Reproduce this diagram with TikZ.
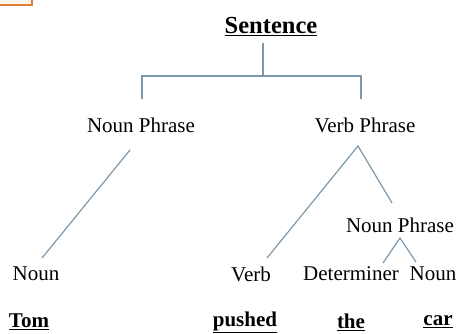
\documentclass[tikz,border=0pt]{standalone}
\usepackage{fontspec}
\setmainfont{Liberation Serif}
\begin{document}
\begin{tikzpicture}[x=1pt,y=-1pt,
  edge/.style={draw={rgb,255:red,125;green,152;blue,170},line width=1.2pt},
  lbl/.style={inner sep=0pt,font=\fontsize{21}{23}\selectfont},
  word/.style={inner sep=0pt,font=\fontsize{21}{23}\selectfont\bfseries},
  top/.style={inner sep=0pt,font=\fontsize{24.5}{27}\selectfont\bfseries}]
\useasboundingbox (0,0) rectangle (459,334);
% orange box fragment at top-left corner
\fill[orange!8] (0,0) rectangle (32,5);
\draw[draw={rgb,255:red,222;green,128;blue,60},line width=1.3pt] (0,5) -- (32,5) -- (32,0);
% nodes
\node[top] (s) at (271,27) {\underline{Sentence}};
\node[lbl] (np1) at (141,125) {Noun Phrase};
\node[lbl] (vp) at (365,125) {Verb Phrase};
\node[lbl] (np2) at (400,225) {Noun Phrase};
\node[lbl] (n1) at (36,274) {Noun};
\node[lbl] (v) at (251,274) {Verb};
\node[lbl] (det) at (351,274) {Determiner};
\node[lbl] (n2) at (433,274) {Noun};
\node[word] (tom) at (29,322) {\underline{Tom}};
\node[word] (pushed) at (245,322) {\underline{pushed}};
\node[word] (the) at (351,322) {\underline{the}};
\node[word] (car) at (438,322) {\underline{car}};
% connector points
\coordinate (sb) at (263,43);
\coordinate (bar) at (263,76);
\coordinate (bl) at (142,76);
\coordinate (br) at (361,76);
\coordinate (bld) at (142,99);
\coordinate (brd) at (361,99);
\coordinate (np1b) at (130,150);
\coordinate (n1t) at (42,258);
\coordinate (vpb) at (358,146);
\coordinate (vt) at (267,258);
\coordinate (np2t) at (392,203);
\coordinate (np2b) at (400,238);
\coordinate (dett) at (383,263);
\coordinate (n2t) at (416,262);
% connectors
\draw[edge] (sb) -- (bar);
\draw[edge] (bld) -- (bl) -- (br) -- (brd);
\draw[edge] (np1b) -- (n1t);
\draw[edge] (vt) -- (vpb) -- (np2t);
\draw[edge] (dett) -- (np2b) -- (n2t);
\end{tikzpicture}
\end{document}
